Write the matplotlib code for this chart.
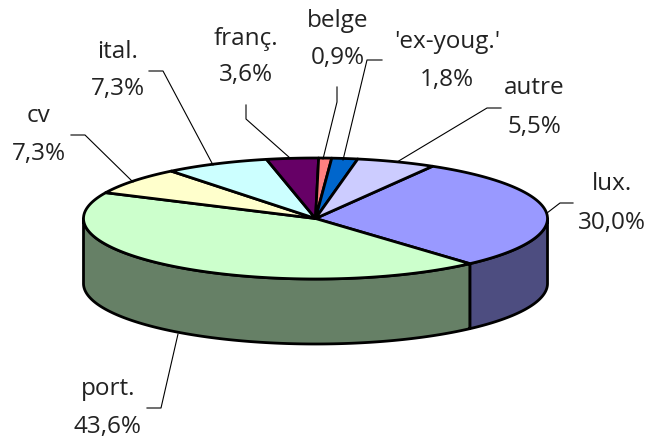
import numpy as np
import matplotlib
matplotlib.use('Agg')
import matplotlib.pyplot as plt
from matplotlib.patches import Polygon

labels = ['lux.', 'port.', 'cv', 'ital.', 'franç.', 'belge', "'ex-youg.'", 'autre']
values = [30.0, 43.6, 7.3, 7.3, 3.6, 0.9, 1.8, 5.5]
pct_labels = ['30,0%', '43,6%', '7,3%', '7,3%', '3,6%', '0,9%', '1,8%', '5,5%']
top_colors = ['#9999FF', '#CCFFCC', '#FFFFCC', '#CCFFFF', '#660066', '#FF8080', '#0066CC', '#CCCCFF']
side_colors = ['#4D4D80', '#668066', '#808066', '#668080', '#330033', '#804040', '#003366', '#666680']

# pie geometry in pixels
cx, cy = 315.5, 218.5
rx, ry = 232, 60.5
depth = 65
start = 30.3  # degrees clockwise from top, where lux. begins

# label centres and leader lines, pixels
label_pos = [(612, 184, 223), (108, 389, 427), (39, 116, 154), (118, 52, 89),
             (246, 39, 75), (338, 21, 58), (447, 42, 80), (534, 88, 127)]
leaders = [[(547, 213), (560, 203), (573, 203)],
           [(178, 334), (161, 408), (147, 408)],
           [(133, 182), (85, 135), (71, 135)],
           [(213, 165), (163, 71), (149, 71)],
           [(290, 158), (246, 119), (246, 105)],
           [(323, 159), (337, 102), (337, 87)],
           [(343, 160), (367, 60), (382, 60)],
           [(397, 162), (487, 108), (501, 108)]]


def ellipse_pts(a0, a1, dy=0):
    # a0, a1 clockwise from top, degrees
    t = np.radians(np.linspace(a0, a1, max(int(abs(a1 - a0)) * 2, 2)))
    return np.column_stack([cx + rx * np.sin(t), cy - ry * np.cos(t) + dy])


fig = plt.figure(figsize=(6.51, 4.41), dpi=100)
ax = fig.add_axes([0, 0, 1, 1])
ax.set_xlim(0, 651)
ax.set_ylim(441, 0)
ax.axis('off')
plt.rcParams['font.family'] = ['Open Sans', 'DejaVu Sans']

fracs = np.array(values) / sum(values) * 360
edges = start + np.concatenate([[0], np.cumsum(fracs)])

# outer wall, only front half is visible (90..270 clockwise from top)
for i in range(len(values)):
    a0, a1 = max(edges[i], 90), min(edges[i + 1], 270)
    if a1 <= a0:
        continue
    pts = np.vstack([ellipse_pts(a0, a1), ellipse_pts(a0, a1, depth)[::-1]])
    ax.add_patch(Polygon(pts, closed=True, fc=side_colors[i], ec='black', lw=2, joinstyle='round'))

# top face
for i in range(len(values)):
    pts = np.vstack([[(cx, cy)], ellipse_pts(edges[i], edges[i + 1])])
    ax.add_patch(Polygon(pts, closed=True, fc=top_colors[i], ec='black', lw=2, joinstyle='round'))

for i in range(len(values)):
    xs, ys = zip(*leaders[i])
    ax.plot(xs, ys, color='black', lw=0.8)
    x, y1, y2 = label_pos[i]
    ax.text(x, y1, labels[i], ha='center', va='center', fontsize=17.5, color='#222222')
    ax.text(x, y2, pct_labels[i], ha='center', va='center', fontsize=17.5, color='#222222')

fig.savefig('out.png', dpi=100)
